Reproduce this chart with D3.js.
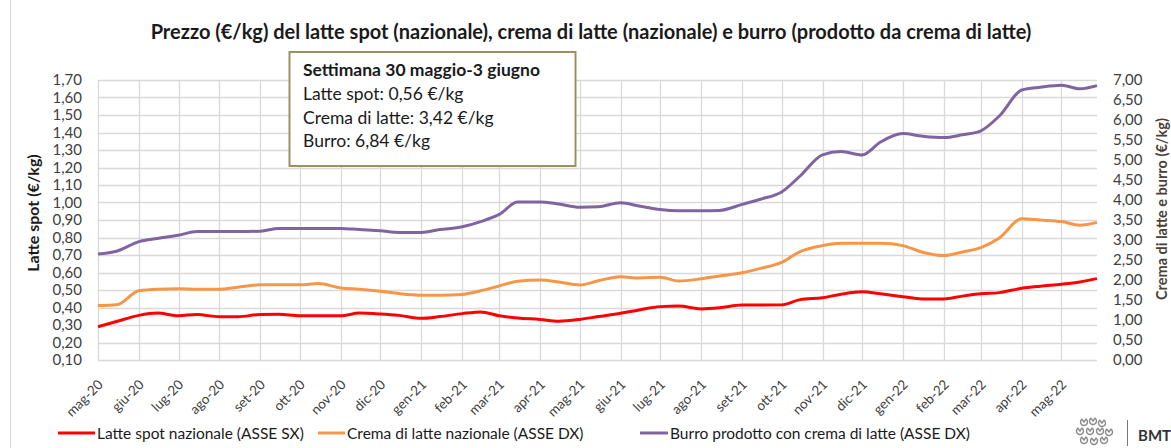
<!DOCTYPE html>
<html><head><meta charset="utf-8">
<script src="https://cdn.jsdelivr.net/npm/d3@7"></script>
<style>
body{margin:0;background:#fff}
svg{display:block}
text{font-family:Lato,"Open Sans",sans-serif}
</style>
</head><body>
<svg id="c" width="1171" height="448"></svg>
<script>
// ---- data ----
const dates = ["2020-05-01","2020-05-15","2020-06-01","2020-06-15","2020-07-01","2020-07-15","2020-08-01","2020-08-15","2020-09-01","2020-09-15","2020-10-01","2020-10-15","2020-11-01","2020-11-15","2020-12-01","2020-12-15",
"2021-01-01","2021-01-15","2021-02-01","2021-02-15","2021-03-01","2021-03-15","2021-04-01","2021-04-15","2021-05-01","2021-05-15","2021-06-01","2021-06-15","2021-07-01","2021-07-15","2021-08-01","2021-08-15","2021-09-01","2021-09-15","2021-10-01","2021-10-15","2021-11-01","2021-11-15","2021-12-01","2021-12-15",
"2022-01-01","2022-01-15","2022-02-01","2022-02-15","2022-03-01","2022-03-15","2022-04-01","2022-04-15","2022-05-01","2022-05-15","2022-05-28"];
const latteSpot = [0.29,0.32,0.355,0.368,0.353,0.36,0.347,0.347,0.36,0.361,0.353,0.353,0.353,0.368,0.363,0.355,
0.338,0.348,0.365,0.375,0.353,0.34,0.332,0.322,0.332,0.348,0.367,0.386,0.405,0.408,0.392,0.398,0.414,0.414,0.415,0.445,0.456,0.476,0.49,0.478,
0.462,0.449,0.449,0.465,0.478,0.485,0.51,0.522,0.533,0.546,0.565];
const crema = [1.36,1.38,1.73,1.77,1.78,1.77,1.77,1.82,1.88,1.88,1.88,1.91,1.80,1.77,1.72,1.66,
1.62,1.62,1.64,1.73,1.85,1.97,2.0,1.95,1.875,1.98,2.08,2.05,2.07,1.975,2.03,2.1,2.18,2.29,2.44,2.71,2.86,2.92,2.92,2.92,
2.86,2.7,2.61,2.70,2.81,3.05,3.53,3.5,3.46,3.37,3.44];
const burro = [2.65,2.72,2.96,3.04,3.12,3.21,3.21,3.21,3.22,3.29,3.29,3.29,3.29,3.26,3.23,3.19,
3.19,3.26,3.33,3.46,3.64,3.95,3.95,3.9,3.82,3.83,3.93,3.85,3.76,3.73,3.73,3.74,3.89,4.02,4.2,4.6,5.13,5.21,5.125,5.45,
5.66,5.6,5.56,5.63,5.73,6.1,6.75,6.82,6.87,6.78,6.86];
const xTickDates = ["2020-05-01","2020-06-01","2020-07-01","2020-08-01","2020-09-01","2020-10-01","2020-11-01","2020-12-01","2021-01-01","2021-02-01","2021-03-01","2021-04-01","2021-05-01","2021-06-01","2021-07-01","2021-08-01","2021-09-01","2021-10-01","2021-11-01","2021-12-01","2022-01-01","2022-02-01","2022-03-01","2022-04-01","2022-05-01"];
const xTickLabels = ["mag-20","giu-20","lug-20","ago-20","set-20","ott-20","nov-20","dic-20","gen-21","feb-21","mar-21","apr-21","mag-21","giu-21","lug-21","ago-21","set-21","ott-21","nov-21","dic-21","gen-22","feb-22","mar-22","apr-22","mag-22"];
const leftTicks = [0.10,0.20,0.30,0.40,0.50,0.60,0.70,0.80,0.90,1.00,1.10,1.20,1.30,1.40,1.50,1.60,1.70];
const rightTicks = [0,0.5,1,1.5,2,2.5,3,3.5,4,4.5,5,5.5,6,6.5,7];
const seriesNames = ["Latte spot nazionale (ASSE SX)","Crema di latte nazionale (ASSE DX)","Burro prodotto con crema di latte (ASSE DX)"];
const titleText = "Prezzo (€/kg) del latte spot (nazionale), crema di latte (nazionale) e burro (prodotto da crema di latte)";
const noteLines = ["Settimana 30 maggio-3 giugno","Latte spot: 0,56 €/kg","Crema di latte: 3,42 €/kg","Burro: 6,84 €/kg"];

// ---- setup ----
const parse = d3.utcParse("%Y-%m-%d");
const D = dates.map(parse);
const svg = d3.select("#c");
const L = 98, R = 1097, T = 80, B = 360;
const x = d3.scaleUtc().domain([D[0], D[D.length-1]]).range([L, R]);
const yL = d3.scaleLinear().domain([0.1, 1.7]).range([B, T]);
const yR = d3.scaleLinear().domain([0, 7]).range([B, T]);
const fmt = d => d.toFixed(2).replace(".", ",");
const textCol = "#404040";

// chart border
svg.append("line").attr("x1",10.5).attr("x2",10.5).attr("y1",0).attr("y2",448).attr("stroke","#d9d9d9");

// title
svg.append("text").attr("x",591).attr("y",39).attr("text-anchor","middle")
  .attr("font-size",20).attr("font-weight","bold").attr("fill","#1a1a1a").text(titleText);

// gridlines
const g = svg.append("g");
g.selectAll("line.h").data(leftTicks).join("line")
  .attr("x1",L).attr("x2",R).attr("y1",d=>Math.round(yL(d))+0.5).attr("y2",d=>Math.round(yL(d))+0.5)
  .attr("stroke","#d9d9d9").attr("stroke-width",1.3);
g.selectAll("line.v").data(xTickDates.map(parse)).join("line")
  .attr("x1",d=>Math.round(x(d))+0.5).attr("x2",d=>Math.round(x(d))+0.5).attr("y1",T).attr("y2",B)
  .attr("stroke","#d9d9d9").attr("stroke-width",1.3);

// axes
const axL = svg.append("g").attr("transform",`translate(${L},0)`)
  .call(d3.axisLeft(yL).tickValues(leftTicks).tickFormat(fmt).tickSize(0).tickPadding(16));
const axR = svg.append("g").attr("transform",`translate(${R},0)`)
  .call(d3.axisRight(yR).tickValues(rightTicks).tickFormat(fmt).tickSize(0).tickPadding(16));
const axX = svg.append("g").attr("transform",`translate(0,${B})`)
  .call(d3.axisBottom(x).tickValues(xTickDates.map(parse)).tickFormat((d,i)=>xTickLabels[i]).tickSize(0));
[axL,axR,axX].forEach(a=>{
  a.select(".domain").remove();
  a.selectAll("text").attr("font-family","Lato,'Open Sans',sans-serif").attr("font-size",15).attr("fill",textCol);
});
axX.selectAll("text").attr("font-size",13.5).attr("text-anchor","end").attr("x",0).attr("y",0).attr("dy","0.35em")
  .attr("transform","translate(2,22) rotate(-45)");

// axis titles
svg.append("text").attr("transform","translate(39,213) rotate(-90)").attr("text-anchor","middle")
  .attr("font-size",16).attr("font-weight","bold").attr("fill","#1a1a1a").text("Latte spot (€/kg)");
svg.append("text").attr("transform","translate(1167,209) rotate(-90)").attr("text-anchor","middle")
  .attr("font-size",14.5).attr("font-weight","bold").attr("fill","#4a4036").text("Crema di latte e burro (€/kg)");

// lines
const colors = ["#ff0000","#f79646","#8064a2"];
const mk = (arr, sc) => d3.line().curve(d3.curveMonotoneX).x((d,i)=>x(D[i])).y(d=>sc(d))(arr);
svg.append("path").attr("d",mk(burro,yR)).attr("fill","none").attr("stroke",colors[2]).attr("stroke-width",3).attr("stroke-linejoin","round");
svg.append("path").attr("d",mk(crema,yR)).attr("fill","none").attr("stroke",colors[1]).attr("stroke-width",3).attr("stroke-linejoin","round");
svg.append("path").attr("d",mk(latteSpot,yL)).attr("fill","none").attr("stroke",colors[0]).attr("stroke-width",3).attr("stroke-linejoin","round");

// annotation box
const nb = svg.append("g");
nb.append("rect").attr("x",289.5).attr("y",52).attr("width",286).attr("height",114)
  .attr("fill","#fff").attr("stroke","#9b9163").attr("stroke-width",2);
noteLines.forEach((t,i)=>{
  nb.append("text").attr("x",303).attr("y",[76,99.5,123.5,146.5][i]).attr("font-size",17.5)
    .attr("font-weight",i===0?"bold":"normal").attr("fill","#1a1a1a").text(t);
});

// legend
const leg = [[58,95,97],[318,345,347],[640,668,670]];
leg.forEach((p,i)=>{
  svg.append("line").attr("x1",p[0]).attr("x2",p[1]).attr("y1",433).attr("y2",433).attr("stroke",colors[i]).attr("stroke-width",3);
  svg.append("text").attr("x",p[2]).attr("y",438.5).attr("font-size",15.5).attr("fill","#1a1a1a").text(seriesNames[i]);
});

// logo
const lg = svg.append("g").attr("fill","none").attr("stroke","#8a8a8a").attr("stroke-width",1.4);
[[1084,422],[1093,421],[1102,423],[1080,431],[1090,431],[1100,431],[1109,432],[1084,440],[1094,441],[1104,440]].forEach(c=>{
  lg.append("path").attr("d",d3.arc()({innerRadius:0,outerRadius:3.5,startAngle:0.6,endAngle:5.6})).attr("transform",`translate(${c[0]},${c[1]})`);
});
svg.append("line").attr("x1",1127.5).attr("x2",1127.5).attr("y1",420).attr("y2",446).attr("stroke","#777").attr("stroke-width",1);
svg.append("text").attr("x",1138).attr("y",441).attr("font-size",15).attr("font-weight","bold").attr("fill","#333").text("BMT");
</script>
</body></html>
